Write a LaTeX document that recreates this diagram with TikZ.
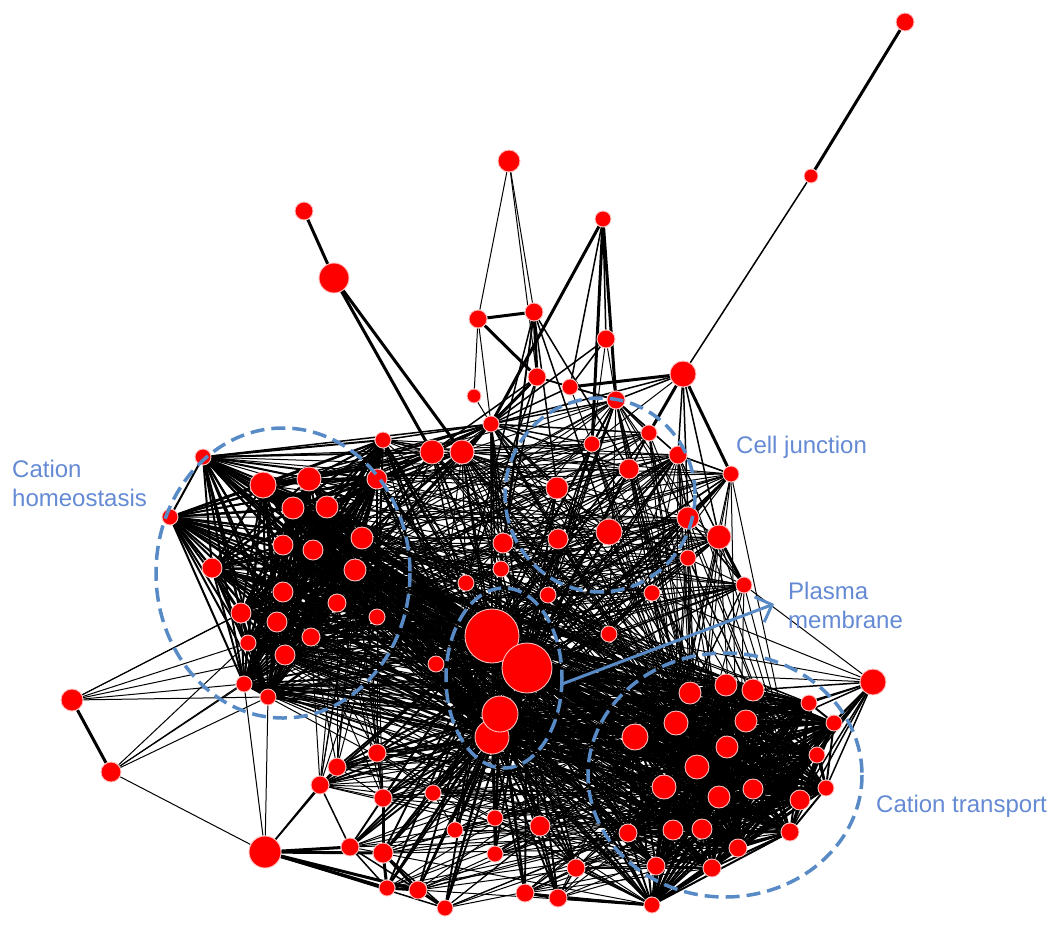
\documentclass[tikz,border=0pt]{standalone}
\usepackage{fontspec}
\setmainfont{Liberation Sans}
\usetikzlibrary{arrows.meta}
\pgfdeclarelayer{bg}
\pgfsetlayers{bg,main}
\definecolor{ellc}{RGB}{88,138,198}
\definecolor{labc}{RGB}{100,138,212}
\definecolor{ndred}{RGB}{255,0,0}
\newcommand\linkset[7]{%
 \foreach \i in {1,...,#2}{\foreach \j in {1,...,#4}{%
   \pgfmathtruncatemacro\mm{mod(\i*5+\j*3+#6,#5)}%
   \ifnum\mm=0 \draw[#7] (#1\i) -- (#3\j);\fi}}}
\newcommand\inset[5]{%
 \foreach \i in {1,...,#2}{\foreach \j in {\i,...,#2}{%
   \pgfmathtruncatemacro\mm{mod(\i*5+\j*3+#4,#3)}%
   \ifnum\i<\j \ifnum\mm=0 \draw[#5] (#1\i) -- (#1\j);\fi\fi}}}
\begin{document}
\begin{tikzpicture}[x=1pt,y=-1pt,
  nd/.style={circle,fill=ndred,draw=red!25!white,line width=0.9pt,inner sep=0pt},
  ef/.style={line width=1pt,black},
  em/.style={line width=1.5pt,black},
  ec/.style={line width=2pt,black},
  et/.style={line width=3pt,black},
  eh/.style={line width=1.9pt,black},
  dashell/.style={draw=ellc,line width=3.5pt,dash pattern=on 14pt off 7pt},
  lbl/.style={text=labc,font=\fontsize{24}{29}\selectfont,inner sep=0pt}]
\useasboundingbox (0,0) rectangle (1063,930);
% ---------------- nodes ----------------
\foreach \nm/\x/\y/\r in {
 L1/203/457/8, L2/170/517/8, L3/263/485/13, L4/309/479/12, L5/377/479/10,
 L6/293/508/11, L7/327/507/11, L8/362/538/11, L9/283/545/10, L10/313/550/10,
 L11/212/568/10, L12/355/570/11, L13/283/592/10, L14/337/603/9, L15/377/617/8,
 L16/241/613/10, L17/277/622/10, L18/248/643/8, L19/311/637/9, L20/285/655/10,
 L21/244/684/8, L22/268/697/8, L23/383/440/8,
 RA/873/682/13, R1/690/693/11, R2/726/685/11, R3/753/690/11, R4/809/703/8,
 R5/834/723/8, R6/676/723/12, R7/746/721/11, R8/635/737/13, R9/727/747/11,
 R10/817/755/8, R11/697/767/12, R12/664/787/12, R13/826/788/8, R14/719/797/11,
 R15/753/789/10, R16/800/800/10, R17/628/833/9, R18/673/830/10, R19/702/829/10,
 R20/790/832/9, R21/738/848/9, R22/656/866/9, R23/712/868/9, R24/652/905/8,
 C1/491/424/8, C2/432/452/12, C3/462/452/12, C4/592/444/8, C5/649/433/8,
 C6/678/455/9, C7/629/469/10, C8/557/488/11, C9/688/518/11, C10/609/532/13,
 C11/558/539/10, C12/503/543/10, C13/501/569/8, C14/466/583/8, C15/548/595/8,
 C16/688/558/8, C17/652/593/8, C18/609/634/8, C19/719/537/12, C20/731/474/8,
 C21/744/585/8, C22/436/664/8, C23/616/400/9,
 T1/905/22/9, T2/811/176/7, T3/509/161/11, T4/304/211/9, T5/334/278/15,
 T6/603/219/8, T7/478/319/9, T8/534/312/9, T9/606/339/9, T10/537/377/9,
 T11/474/396/7, T12/570/387/8, T13/683/374/13,
 B1/377/753/9, B2/337/767/9, B3/320/785/9, B4/383/798/9, B5/433/793/8,
 B6/455/830/8, B7/495/818/8, B8/540/826/10, B9/350/847/9, B10/383/853/10,
 B11/495/854/8, B12/576/868/9, B13/387/888/8, B14/418/890/9, B15/445/908/8,
 B16/525/893/9, B17/558/898/9, B18/265/852/16,
 O1/72/700/11, O2/111/772/10,
 H1/492/636/27, H2/527/668/25, H4/492/737/17, H3/500/714/18}
 \node[nd,minimum size=\r*2pt] (\nm) at (\x,\y) {};
% ---------------- edges ----------------
\begin{pgfonlayer}{bg}
% clusters
\inset{L}{23}{1}{0}{ec}
\inset{R}{24}{1}{0}{ec}
\inset{C}{23}{3}{0}{ef}
\foreach \k in {3,4,5,7,9,10,13,16,20,21,23,24}{\draw[em] (RA) -- (R\k);}
\draw[ef] (RA) -- (C21); \draw[ef] (RA) -- (C17); \draw[ef] (RA) -- (H2);
\draw[ef] (RA) -- (C18);
% hubs
\foreach \h in {H1,H2,H3,H4}{
  \foreach \k in {1,...,23}{\draw[eh] (\h) -- (L\k);}
  \foreach \k in {1,...,24}{\draw[eh] (\h) -- (R\k);}
  \foreach \k in {1,...,17}{\draw[eh] (\h) -- (B\k);}
}
\foreach \h in {H1,H2}{\foreach \k in {1,...,23}{\draw[em] (\h) -- (C\k);}}
\linkset{H}{4}{C}{23}{2}{0}{em}
% cross links
\linkset{L}{23}{R}{24}{3}{0}{ef}
\linkset{C}{23}{L}{23}{4}{1}{ef}
\linkset{C}{23}{R}{24}{5}{2}{ef}
\linkset{R}{24}{B}{17}{4}{1}{ef}
\foreach \a in {B1,B2,B3,B4}{\foreach \k in {8,12,14,15,19}{\draw[ef] (\a) -- (L\k);}}
\foreach \a in {C1,C2,C3}{\foreach \k in {1,3,4,5,6,7,8,12,23}{\draw[em] (\a) -- (L\k);}}
% top
\draw[et] (T1) -- (T2);
\draw[em] (T2) -- (T13);
\draw[ef] (T3) -- (T7); \draw[ef] (T3) -- (T8); \draw[ef] (T3) -- (T10);
\draw[et] (T7) -- (T8); \draw[et] (T7) -- (T10); \draw[et] (T8) -- (T10);
\draw[ef] (T7) -- (T11); \draw[ef] (T7) -- (C1); \draw[ef] (T11) -- (C1);
\draw[et] (T4) -- (T5);
\draw[et] (T5) -- (C2); \draw[et] (T5) -- (C3);
\draw[et] (T6) -- (C1); \draw[et] (T6) -- (C23); \draw[em] (T6) -- (T9);
\draw[em] (T6) -- (T12); \draw[et] (T6) -- (C4);
\draw[em] (T9) -- (C1); \draw[em] (T9) -- (T12); \draw[ef] (T9) -- (C23);
\draw[ef] (T9) -- (C4);
\draw[et] (T10) -- (C1); \draw[em] (T10) -- (T12); \draw[em] (T10) -- (C23);
\draw[em] (T12) -- (C1); \draw[em] (T12) -- (C23); \draw[et] (T12) -- (T13);
\draw[ef] (T12) -- (C4);
\draw[em] (T13) -- (C23); \draw[et] (T13) -- (C5); \draw[em] (T13) -- (C6);
\draw[et] (T13) -- (C20); \draw[em] (T13) -- (C9); \draw[ef] (T13) -- (C4);
\draw[em] (T13) -- (C1); \draw[em] (T13) -- (C19);
\foreach \k in {2,3,4,5,7,8,10,11,12,13,23}{\draw[em] (C1) -- (C\k);}
\foreach \k in {5,6,7,4}{\draw[em] (C23) -- (C\k);}
\foreach \k in {7,8,10,12,13,14}{\draw[em] (T8) -- (C\k);}
\foreach \k in {2,3,14,12}{\draw[em] (T10) -- (C\k);}
\draw[em] (C20) -- (C9); \draw[em] (C20) -- (C6);
\draw[et] (C19) -- (C21); \draw[em] (C9) -- (C21); \draw[em] (C19) -- (C16);
% bottom
\draw[et] (O1) -- (O2);
\foreach \k in {21,22,18,16,20,13}{\draw[ef] (O1) -- (L\k);}
\foreach \k in {21,22,18,20}{\draw[ef] (O2) -- (L\k);}
\draw[ef] (O2) -- (B18);
\draw[ef] (B18) -- (L21); \draw[ef] (B18) -- (L22);
\draw[em] (B18) -- (B2); \draw[em] (B18) -- (B3);
\draw[et] (B18) -- (B9); \draw[et] (B18) -- (B10); \draw[et] (B18) -- (B13);
\draw[et] (B18) -- (B14); \draw[em] (B18) -- (B15);
\draw[em] (B1) -- (B2); \draw[em] (B2) -- (B3); \draw[em] (B1) -- (B4);
\draw[ef] (B3) -- (B4); \draw[ef] (B2) -- (B4); \draw[em] (B4) -- (B5);
\draw[ef] (B1) -- (B5); \draw[et] (B4) -- (B10); \draw[em] (B3) -- (B9);
\draw[em] (B9) -- (B13); \draw[em] (B9) -- (B14); \draw[et] (B10) -- (B13);
\draw[et] (B10) -- (B14); \draw[em] (B10) -- (B15); \draw[et] (B13) -- (B14);
\draw[et] (B14) -- (B15); \draw[ef] (B5) -- (B6);
\draw[et] (B7) -- (B11); \draw[em] (B11) -- (B8);
\draw[et] (B16) -- (B17); \draw[em] (B12) -- (B16); \draw[em] (B12) -- (B17);
\draw[et] (B17) -- (R24); \draw[em] (B12) -- (R24); \draw[em] (B16) -- (R24);
\draw[em] (B8) -- (B12); \draw[em] (B12) -- (R22);
\end{pgfonlayer}
% ---------------- groups ----------------
\draw[dashell] (283,573) ellipse [x radius=127, y radius=145];
\draw[dashell] (600,495) ellipse [x radius=95, y radius=97];
\draw[dashell] (504,678) ellipse [x radius=58, y radius=90];
\draw[dashell] (725,775) ellipse [x radius=137, y radius=122];
\coordinate (as) at (562,684);
\coordinate (ae) at (774,604);
\draw[draw=ellc,line width=3pt,-{Straight Barb[scale=1.8]}] (as) -- (ae);
\node[lbl,anchor=north west,align=left] (lh) at (12,460) {Cation\\homeostasis};
\node[lbl,anchor=base west] (lc) at (736,453) {Cell junction};
\node[lbl,anchor=north west,align=left] (lp) at (788,582) {Plasma\\membrane};
\node[lbl,anchor=base west] (lt) at (876,812) {Cation transport};
\end{tikzpicture}
\end{document}
